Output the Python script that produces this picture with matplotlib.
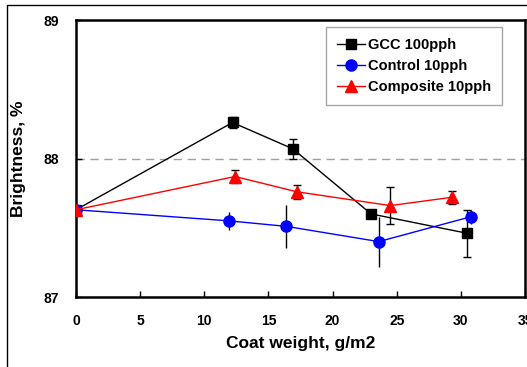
import matplotlib
matplotlib.use('Agg')
from matplotlib import pyplot as plt
from matplotlib.patches import Rectangle
from matplotlib.lines import Line2D

plt.rcParams['font.family'] = ['Liberation Sans', 'DejaVu Sans']
plt.rcParams['font.weight'] = 'bold'

# Data
gcc_x = [0.0, 12.2, 16.9, 23.0, 30.5]
gcc_y = [87.63, 88.26, 88.07, 87.60, 87.46]
gcc_err = [0.0, 0.04, 0.07, 0.02, 0.17]

ctrl_x = [0.0, 11.9, 16.4, 23.6, 30.8]
ctrl_y = [87.63, 87.55, 87.51, 87.40, 87.58]
ctrl_err = [0.0, 0.065, 0.155, 0.18, 0.05]

comp_x = [0.0, 12.4, 17.2, 24.5, 29.3]
comp_y = [87.63, 87.87, 87.76, 87.66, 87.72]
comp_err = [0.0, 0.045, 0.05, 0.135, 0.045]

labels = ['GCC 100pph', 'Control 10pph', 'Composite 10pph']
x_ticks = [0, 5, 10, 15, 20, 25, 30, 35]
y_ticks = [87, 88, 89]

fig = plt.figure(figsize=(5.27, 3.67), dpi=100)
ax = fig.add_axes([0.1442, 0.1907, 0.8520, 0.7548])

# outer frame of the chart area
fig.add_artist(Rectangle((7 / 527, -0.1), 1.2, 1.1 - 5 / 367, transform=fig.transFigure,
                         fill=False, edgecolor='black', linewidth=1.0, clip_on=False))

ax.axhline(88, color='#a0a0a0', linestyle=(0, (6, 4)), linewidth=1.0, zorder=1)

styles = [('black', 's', 7), ('blue', 'o', 8), ('red', '^', 8)]
series = [(gcc_x, gcc_y, gcc_err, 3), (ctrl_x, ctrl_y, ctrl_err, 0), (comp_x, comp_y, comp_err, 3)]
handles = []
for (xs, ys, es, cap), (c, m, ms), lab in zip(series, styles, labels):
    ax.errorbar(xs, ys, yerr=es, color=c, marker=m, markersize=ms, linewidth=1.0,
                ecolor='black', elinewidth=1.0, capsize=cap, zorder=3)
    handles.append(Line2D([], [], color=c, marker=m, markersize=ms, linewidth=1.0, label=lab))

ax.set_xlim(0, 35)
ax.set_ylim(87, 89)
ax.set_xticks(x_ticks)
ax.set_yticks(y_ticks)
ax.tick_params(direction='in', length=4, width=1, labelsize=10, pad=12)
for s in ax.spines.values():
    s.set_linewidth(1.8)

ax.set_xlabel('Coat weight, g/m2', fontsize=12.5, fontweight='bold', labelpad=6)
ax.set_ylabel('Brightness, %', fontsize=12.5, fontweight='bold', labelpad=13)

leg = ax.legend(handles=handles, loc='upper left', bbox_to_anchor=(0.557, 0.975), frameon=True,
                fancybox=False, edgecolor='#909090', fontsize=10.5, handlelength=1.9,
                borderpad=0.75, labelspacing=0.5, handletextpad=0.2, borderaxespad=0)
leg.get_frame().set_linewidth(1.0)
for t in leg.get_texts():
    t.set_fontweight('bold')

fig.savefig('out.png', dpi=100)
